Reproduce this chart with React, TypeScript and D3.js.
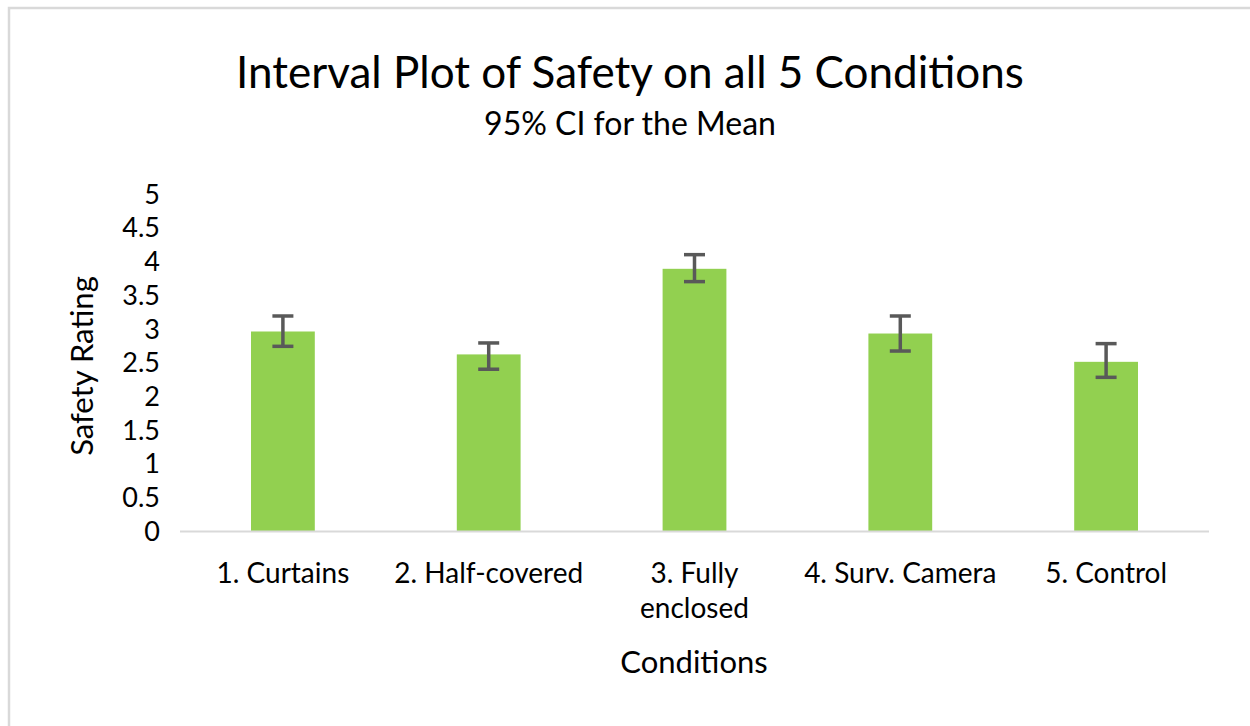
import React from "react";
import * as d3 from "d3";

const categories = ["1. Curtains", "2. Half-covered", "3. Fully enclosed", "4. Surv. Camera", "5. Control"];
const labelLines = [["1. Curtains"], ["2. Half-covered"], ["3. Fully", "enclosed"], ["4. Surv. Camera"], ["5. Control"]];
const means = [2.96, 2.62, 3.89, 2.93, 2.51];
const lower = [2.74, 2.40, 3.70, 2.67, 2.28];
const upper = [3.19, 2.79, 4.10, 3.19, 2.78];
const yTicks = [0, 0.5, 1, 1.5, 2, 2.5, 3, 3.5, 4, 4.5, 5];

const FONT = "Lato, 'Open Sans', sans-serif";

const App = () => {
    const ref = React.useRef<SVGSVGElement>(null);

    React.useEffect(() => {
        const svg = d3.select(ref.current);
        svg.selectAll("*").remove();

        // frame
        svg.append("rect")
            .attr("x", 9).attr("y", 8)
            .attr("width", 1260).attr("height", 740)
            .attr("fill", "white")
            .attr("stroke", "#d9d9d9")
            .attr("stroke-width", 2.5);

        const x = d3.scaleBand<string>()
            .domain(categories)
            .range([180, 1209])
            .paddingInner(0.69)
            .paddingOuter(0.345);
        const y = d3.scaleLinear().domain([0, 5]).range([531, 194]);

        // title
        svg.append("text")
            .attr("x", 630).attr("y", 88)
            .attr("text-anchor", "middle")
            .attr("font-family", FONT)
            .attr("font-size", "44px")
            .attr("fill", "#000")
            .text("Interval Plot of Safety on all 5 Conditions");
        svg.append("text")
            .attr("x", 630).attr("y", 135)
            .attr("text-anchor", "middle")
            .attr("font-family", FONT)
            .attr("font-size", "32px")
            .attr("fill", "#000")
            .text("95% CI for the Mean");

        // y tick labels
        svg.append("g").selectAll("text")
            .data(yTicks)
            .join("text")
            .attr("x", 160)
            .attr("y", d => y(d))
            .attr("dy", "0.36em")
            .attr("text-anchor", "end")
            .attr("font-family", FONT)
            .attr("font-size", "27px")
            .attr("fill", "#000")
            .text(d => d3.format("~g")(d));

        // bars
        const g = svg.append("g");
        g.selectAll("rect")
            .data(categories)
            .join("rect")
            .attr("x", d => x(d)!)
            .attr("y", (d, i) => y(means[i]))
            .attr("width", x.bandwidth())
            .attr("height", (d, i) => y(0) - y(means[i]))
            .attr("fill", "#92d050");

        // baseline
        svg.append("line")
            .attr("x1", 180).attr("x2", 1209)
            .attr("y1", y(0) + 0.5).attr("y2", y(0) + 0.5)
            .attr("stroke", "#d9d9d9")
            .attr("stroke-width", 2);

        // error bars
        const eb = svg.append("g")
            .attr("stroke", "#595959")
            .attr("stroke-width", 3.5)
            .attr("fill", "none");
        categories.forEach((c, i) => {
            const cx = x(c)! + x.bandwidth() / 2;
            eb.append("line")
                .attr("x1", cx).attr("x2", cx)
                .attr("y1", y(upper[i])).attr("y2", y(lower[i]));
            [upper[i], lower[i]].forEach(v => {
                eb.append("line")
                    .attr("x1", cx - 10.5).attr("x2", cx + 10.5)
                    .attr("y1", y(v)).attr("y2", y(v));
            });
        });

        // x labels
        labelLines.forEach((lines, i) => {
            const cx = x(categories[i])! + x.bandwidth() / 2;
            const t = svg.append("text")
                .attr("text-anchor", "middle")
                .attr("font-family", FONT)
                .attr("font-size", "28px")
                .attr("fill", "#000");
            lines.forEach((l, j) => {
                t.append("tspan")
                    .attr("x", cx)
                    .attr("y", 583 + j * 35)
                    .text(l);
            });
        });

        // axis titles
        svg.append("text")
            .attr("x", 694).attr("y", 673)
            .attr("text-anchor", "middle")
            .attr("font-family", FONT)
            .attr("font-size", "31px")
            .attr("fill", "#000")
            .text("Conditions");
        svg.append("text")
            .attr("transform", "translate(93,366) rotate(-90)")
            .attr("text-anchor", "middle")
            .attr("font-family", FONT)
            .attr("font-size", "31px")
            .attr("fill", "#000")
            .text("Safety Rating");
    }, []);

    return (
        <svg ref={ref} width={1250} height={726}
            style={{ position: "absolute", left: 0, top: 0, background: "white" }} />
    );
};

export default App;
